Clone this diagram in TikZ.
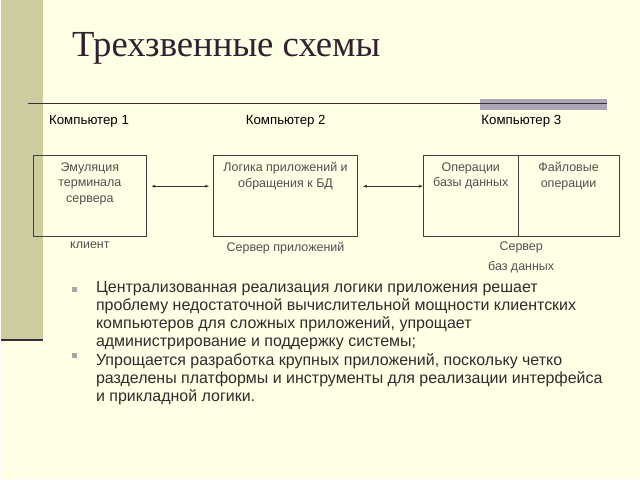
\documentclass[tikz,border=0pt]{standalone}
\usepackage{fontspec}
\setmainfont{Liberation Sans}
\newfontfamily\titlefont{Liberation Serif}
\usetikzlibrary{arrows.meta}

\definecolor{slidebg}{RGB}{255,255,229}
\definecolor{sidebar}{RGB}{204,204,158}
\definecolor{rulecol}{RGB}{62,40,60}
\definecolor{rulegray}{RGB}{170,166,180}
\definecolor{boxtext}{RGB}{80,80,80}
\definecolor{bodytext}{RGB}{45,45,45}

\tikzset{
  block/.style={draw=black!75, line width=0.8pt, minimum height=81, inner sep=0pt},
  blocktext/.style={text=boxtext, font=\fontsize{12.5}{15.5}\selectfont, align=center, anchor=north, inner sep=0pt},
  comp/.style={font=\fontsize{13.3}{15}\selectfont, anchor=west, inner sep=0pt},
  under/.style={text=boxtext, font=\fontsize{12.5}{20}\selectfont, align=center, anchor=north, inner sep=0pt},
  link/.style={draw=black!80, line width=0.6pt, {Latex[length=4pt,width=3pt]}-{Latex[length=4pt,width=3pt]}},
  bullet/.style={fill=black!35, minimum size=5, inner sep=0pt},
  bodytxt/.style={text=bodytext, font=\fontsize{16}{18}\selectfont, align=left, anchor=north west, inner sep=0pt}
}

\begin{document}
\begin{tikzpicture}[x=1pt,y=-1pt]
\fill[slidebg] (0,0) rectangle (640,480);
\fill[sidebar] (0,0) rectangle (42,340);
\draw[rulecol, line width=2pt] (0,341) -- (42,341);
\fill[rulegray] (480,99) rectangle (607,110);
\draw[rulecol, line width=1.2pt] (27,104) -- (607,104);

% title
\node[anchor=base west, inner sep=0pt, text=rulecol!80!black] (title) at (71,57) {\titlefont\fontsize{36.8}{40}\selectfont Трехзвенные схемы};

% computers
\node[comp] (comp1) at (48,121) {Компьютер 1};
\node[comp] (comp2) at (245,121) {Компьютер 2};
\node[comp] (comp3) at (481,121) {Компьютер 3};

% blocks
\node[block, minimum width=114] (client) at (89,196.5) {};
\node[block, minimum width=144] (appserver) at (285,196.5) {};
\node[block, minimum width=95] (dbops) at (470.5,196.5) {};
\node[block, minimum width=101] (fileops) at (568.5,196.5) {};

\node[blocktext] (clienttext) at (89,162.5) {Эмуляция\\терминала\\сервера};
\node[blocktext] (apptext) at (285,162.5) {Логика приложений и\\обращения к БД};
\node[blocktext] (dbtext) at (470.5,162.5) {Операции\\базы данных};
\node[blocktext] (filetext) at (568.5,162.5) {Файловые\\операции};

\draw[link, shorten <=4pt, shorten >=4pt] ([yshift=10pt]client.east) -- ([yshift=10pt]appserver.west);
\draw[link, shorten <=5pt] ([yshift=10pt]appserver.east) -- ([yshift=10pt]dbops.west);

% captions
\node[under] (clientcap) at (89,242) {клиент};
\node[under] (appcap) at (285,242) {Сервер приложений};
\node[under] (dbcap) at (521,242) {Сервер\\баз данных};

% bullets
\node[bullet] (bullet1) at (74,290) {};
\node[bullet] (bullet2) at (74,356) {};
\node[bodytxt] (text1) at (95,282) {Централизованная реализация логики приложения решает\\проблему недостаточной вычислительной мощности клиентских\\компьютеров для сложных приложений, упрощает\\администрирование и поддержку системы;};
\node[bodytxt] (text2) at (95,354) {Упрощается разработка крупных приложений, поскольку четко\\разделены платформы и инструменты для реализации интерфейса\\и прикладной логики.};

\end{tikzpicture}
\end{document}
